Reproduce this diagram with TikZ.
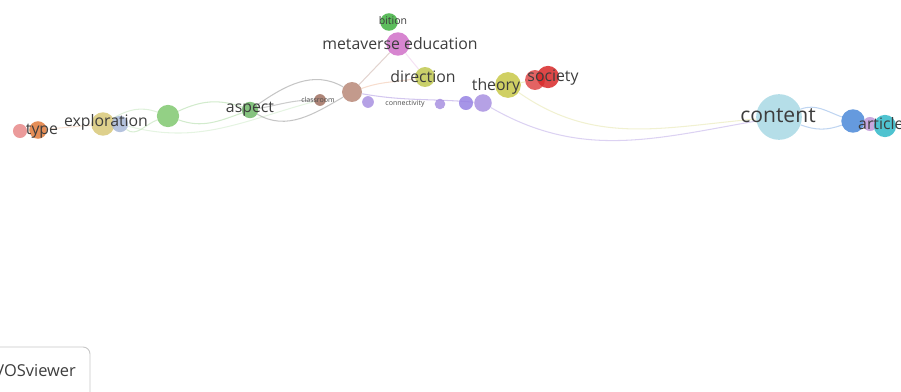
\documentclass[tikz,border=0pt]{standalone}
\usepackage{fontspec}
\setmainfont{Open Sans}
\usetikzlibrary{backgrounds}

\definecolor{cpink}{HTML}{E88A8A}
\definecolor{corange}{HTML}{E07A3A}
\definecolor{ckhaki}{HTML}{D8C878}
\definecolor{cgreyblue}{HTML}{A8B8D8}
\definecolor{cgreen}{HTML}{80C870}
\definecolor{cgreen2}{HTML}{70B868}
\definecolor{cbrown}{HTML}{A07060}
\definecolor{cbrown2}{HTML}{B88878}
\definecolor{cpurple}{HTML}{A890E0}
\definecolor{cyellow}{HTML}{C8C848}
\definecolor{cred}{HTML}{D82828}
\definecolor{clime}{HTML}{C0C850}
\definecolor{cmagenta}{HTML}{D070C8}
\definecolor{cgreen3}{HTML}{40B040}
\definecolor{clight}{HTML}{A8D8E4}
\definecolor{cblue}{HTML}{4A88D8}
\definecolor{cteal}{HTML}{30B8C8}
\definecolor{cviolet}{HTML}{C098D8}

\tikzset{
	bub/.style={circle,inner sep=0pt,draw=none,fill opacity=.85},
	lbl/.style={inner sep=0pt,text=black!76,font=\fontsize{13.5}{14}\selectfont},
	tiny/.style={inner sep=0pt,text=black!70,font=\fontsize{6}{6}\selectfont},
	lnk/.style={line width=.9pt,opacity=.5},
}

\begin{document}
\begin{tikzpicture}[x=0.03cm,y=-0.03cm]
		\useasboundingbox (0,0) rectangle (901,391);
		
		% bubbles
		\node[bub,fill=cpink,minimum size=12pt] (pk) at (20,131) {};
		\node[bub,fill=corange,minimum size=15pt] (type) at (38,130) {};
		\node[bub,fill=ckhaki,minimum size=20pt] (expl) at (103,124) {};
		\node[bub,fill=cgreyblue,minimum size=14pt] (expl2) at (120,124) {};
		\node[bub,fill=cgreen,minimum size=19pt] (grn) at (168,116) {};
		\node[bub,fill=cgreen2,minimum size=14pt] (aspect) at (250,110) {};
		\node[bub,fill=cbrown,minimum size=10pt] (cls) at (320,100) {};
		\node[bub,fill=cbrown2,minimum size=17pt] (cls2) at (352,92) {};
		\node[bub,fill=cpurple,minimum size=10pt] (pu1) at (368,102) {};
		\node[bub,fill=cpurple,minimum size=9pt] (pu2) at (440,104) {};
		\node[bub,fill=cpurple!90!blue,minimum size=12pt] (pu3) at (466,103) {};
		\node[bub,fill=cpurple,minimum size=15pt] (pu4) at (483,103) {};
		\node[bub,fill=clime,minimum size=17pt] (dir) at (425,77) {};
		\node[bub,fill=cyellow,minimum size=22pt] (theory) at (508,85) {};
		\node[bub,fill=cred!85,minimum size=17pt] (soc) at (535,80) {};
		\node[bub,fill=cred,minimum size=19pt] (soc2) at (548,77) {};
		\node[bub,fill=cgreen3,minimum size=15pt] (bit) at (389,22) {};
		\node[bub,fill=cmagenta,minimum size=20pt] (meta) at (398,44) {};
		\node[bub,fill=clight,minimum size=39pt] (content) at (779,117) {};
		\node[bub,fill=cblue,minimum size=20pt] (bl) at (853,121) {};
		\node[bub,fill=cviolet,minimum size=12pt] (vl) at (870,124) {};
		\node[bub,fill=cteal,minimum size=19pt] (tl) at (885,126) {};
		
		% links
		\begin{scope}[on background layer]
		\draw[lnk,corange!40] (type) -- (expl);
		\draw[lnk,cgreen!60] (expl2) to[out=-40,in=200] (grn);
		\draw[lnk,cgreen!50] (expl) to[out=30,in=160] (grn);
		\draw[lnk,cgreen!70] (grn) to[out=25,in=160] (aspect);
		\draw[lnk,cgreen!70] (grn) to[out=-20,in=200] (aspect);
		\draw[lnk,cgreen!40] (expl2) to[out=-15,in=195] (cls);
		\draw[lnk,black!45] (aspect) to[out=35,in=150] (cls2);
		\draw[lnk,black!45] (aspect) to[out=-30,in=210] (cls2);
		\draw[lnk,black!40] (aspect) to[out=10,in=180] (cls);
		\draw[lnk,cbrown!60] (meta) -- (cls2);
		\draw[lnk,corange!50] (cls2) to[out=20,in=190] (dir);
		\draw[lnk,cmagenta!40] (meta) -- (dir);
		\draw[lnk,cpurple] (cls2) to[out=-10,in=175] (pu4);
		\draw[lnk,cpurple!80] (pu4) to[out=-30,in=190] (content);
		\draw[lnk,cyellow!50] (theory) to[out=-35,in=185] (content);
		\draw[lnk,cyellow!60] (theory) -- (soc);
		\draw[lnk,cblue!70] (content) to[out=20,in=160] (bl);
		\draw[lnk,cblue!70] (content) to[out=-20,in=200] (bl);
		\end{scope}
		
		% labels
		\node[lbl] (typel) at (42,131) {type};
		\node[lbl] (expll) at (106,122) {exploration};
		\node[lbl] (aspectl) at (250,109) {aspect};
		\node[tiny] (clsl) at (318,100) {classroom};
		\node[tiny] (conl) at (405,104) {connectivity};
		\node[lbl] (dirl) at (423,77) {direction};
		\node[lbl] (theoryl) at (496,86) {theory};
		\node[lbl] (socl) at (553,78) {society};
		\node[lbl] (metal) at (400,44) {metaverse education};
		\node[lbl,font=\fontsize{9}{9}\selectfont] (bitl) at (393,21) {bition};
		\node[lbl,font=\fontsize{18}{18}\selectfont] (contentl) at (778,116) {content};
		\node[lbl,anchor=west] (artl) at (858,124) {article};
		
		% VOSviewer tag
		\draw[black!22,line width=.8pt,rounded corners=6pt] (-10,400) -- (-10,347) -- (90,347) -- (90,400);
		\node[lbl,font=\fontsize{14}{14}\selectfont,anchor=east] (vos) at (76,371) {VOSviewer};
	\end{tikzpicture}
\end{document}
